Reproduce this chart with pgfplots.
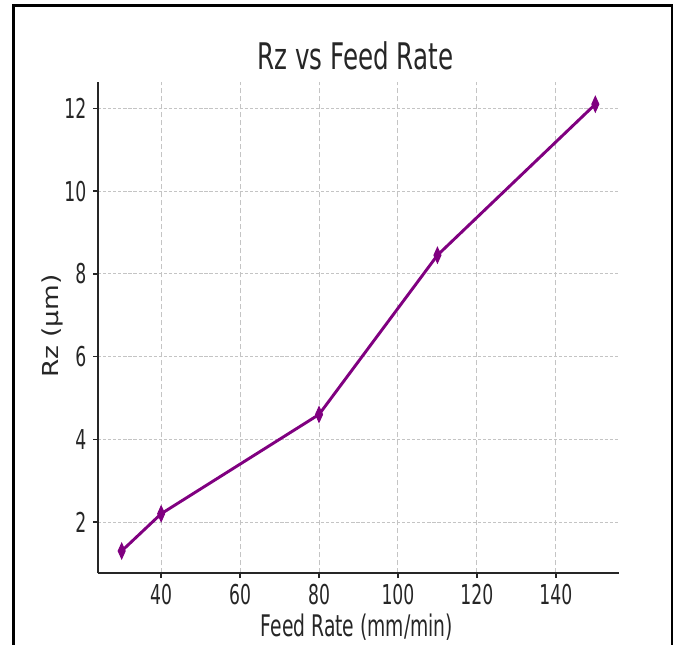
\documentclass[border=0pt]{standalone}
\usepackage{pgfplots}
\pgfplotsset{compat=1.18}
\usepackage{fontspec}
\setmainfont{DejaVu Sans}
\newfontfamily\narrowfont{DejaVu Sans}[FakeStretch=0.63]
\newfontfamily\titlefont{DejaVu Sans}[FakeStretch=0.67]
\newfontfamily\widefont{DejaVu Sans}[FakeStretch=1.2]
\definecolor{linepurple}{HTML}{800080}
\definecolor{txt}{HTML}{262626}
\definecolor{gridgray}{HTML}{C4C4C4}

\begin{document}
\begin{tikzpicture}[x=0.75pt,y=0.75pt]
\useasboundingbox (0,0) rectangle (681,644);
% outer frame
\draw[black, line width=1.9pt] (13.5,-20) rectangle (672,638.5);
\begin{axis}[
  at={(73.5pt,53.0pt)}, anchor=south west,
  scale only axis, width=390.75pt, height=368.6pt,
  xmin=24, xmax=156, ymin=0.76, ymax=12.64,
  axis x line*=bottom, axis y line*=left,
  axis line style={txt, line width=1.5pt, -},
  xtick={40,60,...,140}, ytick={2,4,...,12},
  tick align=outside, major tick length=3.5pt,
  tick style={txt, line width=1.2pt},
  /pgf/number format/assume math mode=true,
  ticklabel style={font=\narrowfont\fontsize{20.5pt}{24pt}\selectfont, text=txt},
  xticklabel style={anchor=base, yshift=-19.5pt},
  yticklabel style={anchor=east, inner sep=0pt, xshift=-5pt},
  xmajorgrids, ymajorgrids,
  x grid style={gridgray, line width=0.75pt, dash pattern=on 3.75pt off 2.25pt},
  y grid style={gridgray, line width=0.75pt, dash pattern=on 2.4pt off 1.4pt},
  title={Rz vs Feed Rate},
  title style={font=\titlefont\fontsize{27.5pt}{32pt}\selectfont, text=txt,
    anchor=base, yshift=0pt, at={(axis description cs:0.494,1.0091)}},
  xlabel={Feed Rate (mm/min)},
  xlabel style={font=\narrowfont\fontsize{22.3pt}{26pt}\selectfont, text=txt,
    anchor=base, at={(axis description cs:0.497,-0.129)}},
  ylabel={Rz (\textmu m)},
  ylabel style={font=\widefont\fontsize{16.5pt}{19pt}\selectfont, text=txt,
    anchor=center, at={(axis description cs:-0.0873,0.503)}},
]
\addplot[linepurple, line width=2.2pt, mark=diamond*,
  mark size=5.8pt,
  mark options={solid, fill=linepurple, line width=0.8pt, xscale=0.6}]
  coordinates {(30,1.3) (40,2.2) (80,4.6) (110,8.45) (150,12.1)};
\end{axis}
\end{tikzpicture}
\end{document}
